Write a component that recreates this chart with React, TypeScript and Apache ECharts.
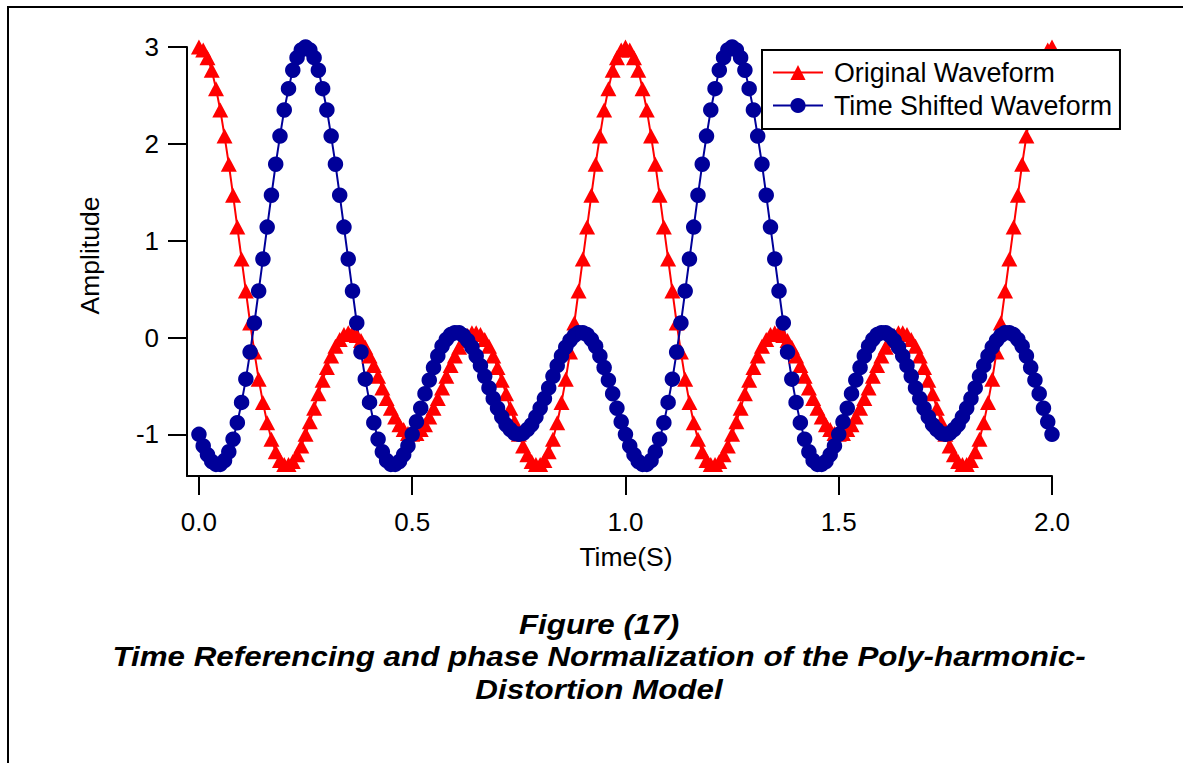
import React, { useEffect, useRef } from "react";
import * as echarts from "echarts";

// Sampling interval of both waveforms (seconds)
const sampleStep = 0.01;

// Original poly-harmonic waveform, one sample every 0.01 s from 0 to 2 s
const originalWaveform = [
  3.00, 2.97, 2.89, 2.76, 2.57, 2.35, 2.08, 1.79, 1.47, 1.14,
  0.81, 0.48, 0.15, -0.15, -0.43, -0.67, -0.88, -1.05, -1.18, -1.27,
  -1.31, -1.31, -1.28, -1.21, -1.12, -1.00, -0.87, -0.73, -0.58, -0.44,
  -0.31, -0.19, -0.09, -0.02, 0.03, 0.05, 0.05, 0.02, -0.03, -0.10,
  -0.19, -0.29, -0.40, -0.52, -0.63, -0.73, -0.82, -0.90, -0.95, -0.99,
  -1.00, -0.99, -0.95, -0.90, -0.82, -0.73, -0.63, -0.52, -0.40, -0.29,
  -0.19, -0.10, -0.03, 0.02, 0.05, 0.05, 0.03, -0.02, -0.09, -0.19,
  -0.31, -0.44, -0.58, -0.73, -0.87, -1.00, -1.12, -1.21, -1.28, -1.31,
  -1.31, -1.27, -1.18, -1.05, -0.88, -0.67, -0.43, -0.15, 0.15, 0.48,
  0.81, 1.14, 1.47, 1.79, 2.08, 2.35, 2.57, 2.76, 2.89, 2.97,
  3.00, 2.97, 2.89, 2.76, 2.57, 2.35, 2.08, 1.79, 1.47, 1.14,
  0.81, 0.48, 0.15, -0.15, -0.43, -0.67, -0.88, -1.05, -1.18, -1.27,
  -1.31, -1.31, -1.28, -1.21, -1.12, -1.00, -0.87, -0.73, -0.58, -0.44,
  -0.31, -0.19, -0.09, -0.02, 0.03, 0.05, 0.05, 0.02, -0.03, -0.10,
  -0.19, -0.29, -0.40, -0.52, -0.63, -0.73, -0.82, -0.90, -0.95, -0.99,
  -1.00, -0.99, -0.95, -0.90, -0.82, -0.73, -0.63, -0.52, -0.40, -0.29,
  -0.19, -0.10, -0.03, 0.02, 0.05, 0.05, 0.03, -0.02, -0.09, -0.19,
  -0.31, -0.44, -0.58, -0.73, -0.87, -1.00, -1.12, -1.21, -1.28, -1.31,
  -1.31, -1.27, -1.18, -1.05, -0.88, -0.67, -0.43, -0.15, 0.15, 0.48,
  0.81, 1.14, 1.47, 1.79, 2.08, 2.35, 2.57, 2.76, 2.89, 2.97,
  3.00,
];

// Same waveform delayed by a quarter period
const shiftedWaveform = [
  -1.00, -1.12, -1.21, -1.28, -1.31, -1.31, -1.27, -1.18, -1.05, -0.88,
  -0.67, -0.43, -0.15, 0.15, 0.48, 0.81, 1.14, 1.47, 1.79, 2.08,
  2.35, 2.57, 2.76, 2.89, 2.97, 3.00, 2.97, 2.89, 2.76, 2.57,
  2.35, 2.08, 1.79, 1.47, 1.14, 0.81, 0.48, 0.15, -0.15, -0.43,
  -0.67, -0.88, -1.05, -1.18, -1.27, -1.31, -1.31, -1.28, -1.21, -1.12,
  -1.00, -0.87, -0.73, -0.58, -0.44, -0.31, -0.19, -0.09, -0.02, 0.03,
  0.05, 0.05, 0.02, -0.03, -0.10, -0.19, -0.29, -0.40, -0.52, -0.63,
  -0.73, -0.82, -0.90, -0.95, -0.99, -1.00, -0.99, -0.95, -0.90, -0.82,
  -0.73, -0.63, -0.52, -0.40, -0.29, -0.19, -0.10, -0.03, 0.02, 0.05,
  0.05, 0.03, -0.02, -0.09, -0.19, -0.31, -0.44, -0.58, -0.73, -0.87,
  -1.00, -1.12, -1.21, -1.28, -1.31, -1.31, -1.27, -1.18, -1.05, -0.88,
  -0.67, -0.43, -0.15, 0.15, 0.48, 0.81, 1.14, 1.47, 1.79, 2.08,
  2.35, 2.57, 2.76, 2.89, 2.97, 3.00, 2.97, 2.89, 2.76, 2.57,
  2.35, 2.08, 1.79, 1.47, 1.14, 0.81, 0.48, 0.15, -0.15, -0.43,
  -0.67, -0.88, -1.05, -1.18, -1.27, -1.31, -1.31, -1.28, -1.21, -1.12,
  -1.00, -0.87, -0.73, -0.58, -0.44, -0.31, -0.19, -0.09, -0.02, 0.03,
  0.05, 0.05, 0.02, -0.03, -0.10, -0.19, -0.29, -0.40, -0.52, -0.63,
  -0.73, -0.82, -0.90, -0.95, -0.99, -1.00, -0.99, -0.95, -0.90, -0.82,
  -0.73, -0.63, -0.52, -0.40, -0.29, -0.19, -0.10, -0.03, 0.02, 0.05,
  0.05, 0.03, -0.02, -0.09, -0.19, -0.31, -0.44, -0.58, -0.73, -0.87,
  -1.00,
];

const xTicks = [0, 0.5, 1, 1.5, 2];
const yTicks = [-1, 0, 1, 2, 3];
const seriesNames = ["Original Waveform", "Time Shifted Waveform"];
const axisNames = { x: "Time(S)", y: "Amplitude" };
const captionLines = [
  "Figure (17)",
  "Time Referencing and phase Normalization of the Poly-harmonic-",
  "Distortion Model",
];

const FONT = '"Liberation Sans", Arial, Helvetica, sans-serif';
const RED = "#ff0000";
const NAVY = "#000099";

export default function App() {
  const ref = useRef<HTMLDivElement>(null);

  useEffect(() => {
    const chart = echarts.init(ref.current!, null, { renderer: "svg" });
    const toPairs = (vals: number[]) => vals.map((v, i) => [i * sampleStep, v]);
    const axisStroke = { color: "#000", width: 2 };

    chart.setOption({
      animation: false,
      backgroundColor: "#fff",
      textStyle: { fontFamily: FONT },
      grid: { left: 187, right: 131, top: 47, bottom: 287 },
      xAxis: {
        type: "value",
        min: -0.028,
        max: 2,
        axisLine: { show: true, onZero: false, lineStyle: axisStroke },
        axisTick: { show: true, customValues: xTicks, length: 19, lineStyle: axisStroke },
        axisLabel: {
          customValues: xTicks,
          formatter: (v: number) => v.toFixed(1),
          color: "#000",
          fontSize: 26,
          fontFamily: FONT,
          margin: 33,
        },
        splitLine: { show: false },
        name: axisNames.x,
        nameLocation: "middle",
        nameGap: 67,
        nameTextStyle: {
          color: "#000",
          fontSize: 26.5,
          fontFamily: FONT,
          padding: [0, 0, 0, 13],
        },
      },
      yAxis: {
        type: "value",
        min: -1.43,
        max: 3,
        axisLine: { show: true, onZero: false, lineStyle: axisStroke },
        axisTick: { show: true, customValues: yTicks, length: 19, lineStyle: axisStroke },
        axisLabel: {
          customValues: yTicks,
          formatter: (v: number) => String(v),
          color: "#000",
          fontSize: 26,
          fontFamily: FONT,
          margin: 28,
        },
        splitLine: { show: false },
        name: axisNames.y,
        nameLocation: "middle",
        nameGap: 84,
        nameRotate: 90,
        nameTextStyle: {
          color: "#000",
          fontSize: 26.5,
          fontFamily: FONT,
          padding: [0, 0, 0, 12],
        },
      },
      legend: {
        orient: "vertical",
        left: 762,
        top: 50,
        padding: [9, 8, 10, 10],
        itemWidth: 50,
        itemHeight: 19,
        itemGap: 6,
        backgroundColor: "#fff",
        borderColor: "#000",
        borderWidth: 2,
        borderRadius: 0,
        textStyle: {
          color: "#000",
          fontSize: 26.8,
          lineHeight: 26,
          fontFamily: FONT,
          padding: [0, 0, 0, 6],
        },
        data: seriesNames,
      },
      series: [
        {
          name: seriesNames[0],
          type: "line",
          data: toPairs(originalWaveform),
          symbol: "triangle",
          symbolSize: [16, 15],
          showAllSymbol: true,
          clip: false,
          lineStyle: { color: RED, width: 2 },
          itemStyle: { color: RED },
        },
        {
          name: seriesNames[1],
          type: "line",
          data: toPairs(shiftedWaveform),
          symbol: "circle",
          symbolSize: 15.5,
          showAllSymbol: true,
          clip: false,
          lineStyle: { color: NAVY, width: 2 },
          itemStyle: { color: NAVY },
        },
      ],
      graphic: [
        {
          type: "rect",
          silent: true,
          z: -10,
          shape: { x: 8, y: 7, width: 1400, height: 1000 },
          style: { fill: "none", stroke: "#000", lineWidth: 2 },
        },
        ...captionLines.map((line, i) => ({
          type: "text",
          silent: true,
          x: 599,
          y: 624 + i * 32.5,
          scaleX: 1.12,
          style: {
            text: line,
            fill: "#000",
            fontFamily: FONT,
            fontSize: 28,
            fontWeight: "bold",
            fontStyle: "italic",
            align: "center",
            verticalAlign: "middle",
          },
        })),
      ],
    });

    return () => chart.dispose();
  }, []);

  return (
    <div
      ref={ref}
      style={{ position: "fixed", left: 0, top: 0, width: 1183, height: 763, background: "#fff" }}
    />
  );
}
